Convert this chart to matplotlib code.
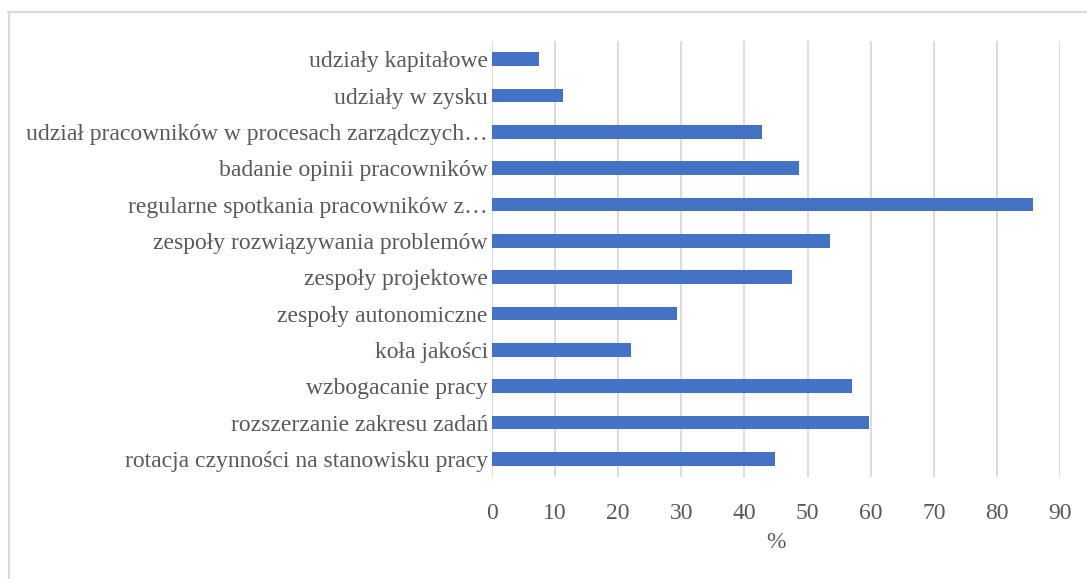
import matplotlib
matplotlib.use("Agg")
import matplotlib.pyplot as plt
from matplotlib.lines import Line2D

categories = [
    "rotacja czynności na stanowisku pracy",
    "rozszerzanie zakresu zadań",
    "wzbogacanie pracy",
    "koła jakości",
    "zespoły autonomiczne",
    "zespoły projektowe",
    "zespoły rozwiązywania problemów",
    "regularne spotkania pracowników z…",
    "badanie opinii pracowników",
    "udział pracowników w procesach zarządczych…",
    "udziały w zysku",
    "udziały kapitałowe",
]
values = [44.9, 59.7, 57.0, 22.0, 29.3, 47.6, 53.5, 85.7, 48.7, 42.8, 11.3, 7.5]
xticks = [0, 10, 20, 30, 40, 50, 60, 70, 80, 90]

W, H = 1087, 579
fig = plt.figure(figsize=(W / 100, H / 100), dpi=100)
fig.patch.set_facecolor("white")

left, right, top, bottom = 492, 1060, 41, 477
ax = fig.add_axes([left / W, 1 - bottom / H, (right - left) / W, (bottom - top) / H])

font = ["Liberation Serif", "DejaVu Serif"]
txt = "#595959"
grid = "#d9d9d9"
fs = 17

ypos = list(range(len(categories)))
ax.barh(ypos, values, height=0.37, color="#4472c4", zorder=3)
ax.set_ylim(-0.5, len(categories) - 0.5)
ax.set_xlim(0, 90)
ax.set_xticks(xticks)
ax.set_xticklabels([str(t) for t in xticks], fontfamily=font, fontsize=fs, color=txt)
ax.set_yticks(ypos)
ax.set_yticklabels(categories, fontfamily=font, fontsize=fs, color=txt)
ax.tick_params(axis="both", length=0)
ax.tick_params(axis="x", pad=18.5)
ax.tick_params(axis="y", pad=3)
ax.grid(axis="x", color=grid, linewidth=1.3, zorder=0)
for s in ax.spines.values():
    s.set_visible(False)
ax.set_xlabel("%", fontfamily=font, fontsize=fs, color=txt, labelpad=6)

# chart border (top and left)
fig.add_artist(Line2D([8.5 / W, 8.5 / W], [0, 1 - 12 / H], transform=fig.transFigure, color=grid, lw=1.5))
fig.add_artist(Line2D([8 / W, 1], [1 - 12 / H, 1 - 12 / H], transform=fig.transFigure, color=grid, lw=1.5))

fig.savefig("out.png", dpi=100, facecolor="white")
